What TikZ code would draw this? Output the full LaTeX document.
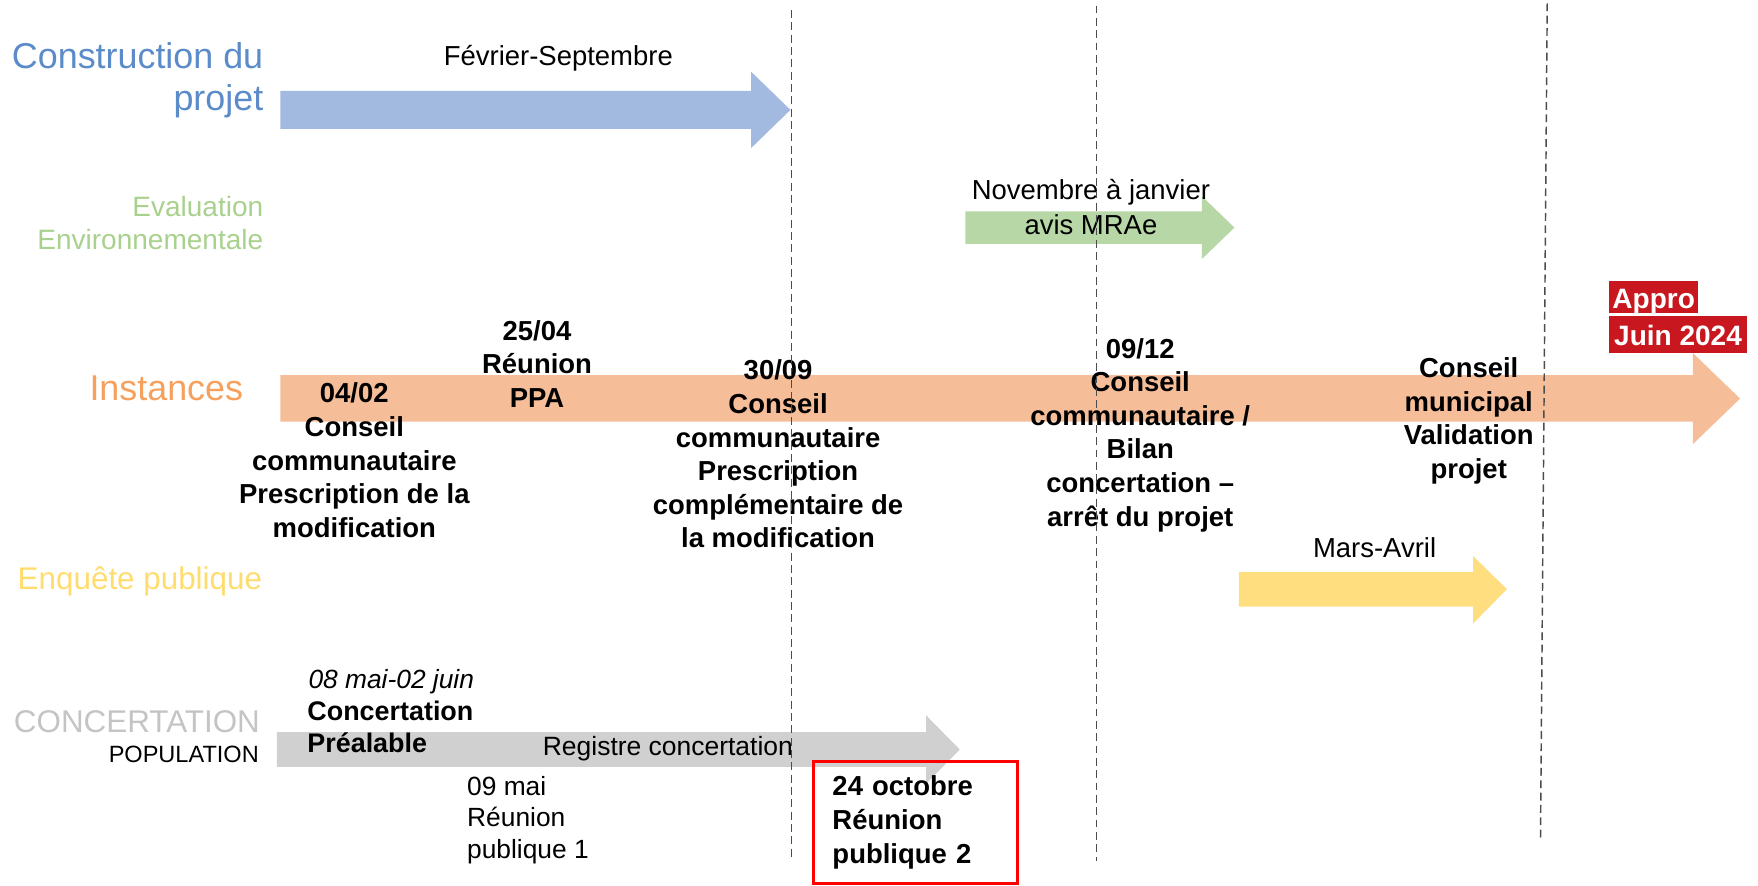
\documentclass[tikz,border=0pt]{standalone}
\usepackage{fontspec}
\setmainfont{Liberation Sans}
\definecolor{fbleu}{HTML}{A2B9E0}
\definecolor{fvert}{HTML}{B7D7A6}
\definecolor{forange}{HTML}{F5BD98}
\definecolor{fjaune}{HTML}{FFDE80}
\definecolor{fgris}{HTML}{D0D0D0}
\definecolor{tbleu}{HTML}{5B8BC8}
\definecolor{tvert}{HTML}{A9D18E}
\definecolor{torange}{HTML}{F6A05E}
\definecolor{tjaune}{HTML}{FFDC6E}
\definecolor{tgris}{HTML}{C4C4C4}
\definecolor{rouge}{HTML}{C8171E}

\begin{document}
\begin{tikzpicture}[x=1pt,y=-1pt,
	evt/.style={align=center,inner sep=0pt,font=\fontsize{24.5}{30}\selectfont\bfseries},
	per/.style={inner sep=0pt,font=\fontsize{24.5}{30}\selectfont},
	cat/.style={inner sep=0pt,align=right},
	repere/.style={draw=black!70,line width=1.3pt,dash pattern=on 7pt off 4pt},
	surl/.style={fill=rouge,text=white,inner xsep=3pt,inner ysep=0pt,font=\fontsize{25}{30}\selectfont\bfseries}]
	\useasboundingbox (0,0) rectangle (1568,790);
	% fleches
	\fill[fbleu] (250,81) -- (670,81) -- (670,64) -- (705,98) -- (670,132) -- (670,115) -- (250,115) -- cycle;
	\fill[fvert] (861,188.5) -- (1072,188.5) -- (1072,175) -- (1101,203) -- (1072,231) -- (1072,217.5) -- (861,217.5) -- cycle;
	\fill[forange] (250,334.5) -- (1510,334.5) -- (1510,315) -- (1552,355.5) -- (1510,396) -- (1510,376) -- (250,376) -- cycle;
	\fill[fjaune] (1105,510) -- (1314,510) -- (1314,496) -- (1344,525.5) -- (1314,556) -- (1314,541) -- (1105,541) -- cycle;
	\fill[fgris] (247,653) -- (826,653) -- (826,638) -- (856,668.5) -- (826,699) -- (826,684) -- (247,684) -- cycle;
	% categories
	\node[cat,anchor=east,text=tbleu,font=\fontsize{32}{37}\selectfont] (construction) at (235,71.5) {Construction du\\projet};
	\node[cat,anchor=east,text=tvert,font=\fontsize{25}{29.5}\selectfont] (evaluation) at (235,198.5) {Evaluation\\Environnementale};
	\node[cat,anchor=base east,text=torange,font=\fontsize{32}{37}\selectfont] (instances) at (217,357) {Instances};
	\node[cat,anchor=base east,text=tjaune,font=\fontsize{28}{34}\selectfont] (enquete) at (234,526) {Enquête publique};
	\node[cat,anchor=base east,text=tgris,font=\fontsize{28}{34}\selectfont] (concertation) at (232,653) {CONCERTATION};
	\node[cat,anchor=base east,font=\fontsize{21}{25}\selectfont] (population) at (231,680) {POPULATION};
	% periodes
	\node[per,anchor=base] (fevsep) at (498,58) {Février-Septembre};
	\node[per,align=center,font=\fontsize{24.5}{31}\selectfont] (novjan) at (973,184.5) {Novembre à janvier\\avis MRAe};
	\node[per,anchor=base] (marsavril) at (1226,497) {Mars-Avril};
	% instances
	\node[evt] (prescription) at (316,410.5) {04/02\\Conseil\\communautaire\\Prescription de la\\modification};
	\node[evt] (ppa) at (479,324.5) {25/04\\Réunion\\PPA};
	\node[evt] (complement) at (694,405) {30/09\\Conseil\\communautaire\\Prescription\\complémentaire de\\la modification};
	\node[evt] (arret) at (1017,388) {09/12\\Conseil\\communautaire /\\Bilan\\concertation –\\arrêt du projet};
	\node[evt] (validation) at (1310,375.5) {Conseil\\municipal\\Validation\\projet};
	\node[surl,anchor=base west,text height=24pt,text depth=4pt] (appro) at (1435,275) {Appro};
	\node[surl,anchor=base west,text height=26pt,text depth=7pt,inner xsep=4.5pt] (juin) at (1435,308) {Juin 2024};
	% concertation
	\node[per,anchor=base west,font=\fontsize{23.5}{28.5}\selectfont\itshape] (dates) at (275,614) {08 mai-02 juin};
	\node[evt,align=left,anchor=west,font=\fontsize{24}{29}\selectfont\bfseries] (prealable) at (274,648.5) {Concertation\\Préalable};
	\node[per,anchor=base west,font=\fontsize{23.6}{29}\selectfont] (registre) at (484,674) {Registre concertation};
	\node[per,align=left,anchor=west,font=\fontsize{23.5}{28.5}\selectfont] (reunion1) at (416.5,731.5) {09 mai\\Réunion\\publique 1};
	\node[draw=red,line width=2.5pt,text width=148pt,inner xsep=17pt,inner ysep=0pt,minimum height=109pt,align=left,font=\fontsize{24.5}{30}\selectfont\bfseries] (reunion2) at (816.5,733.5) {24 octobre\\Réunion\\publique 2};
	% reperes
	\coordinate (r1h) at (706,9);
	\coordinate (r1b) at (706,766);
	\coordinate (r2h) at (978,5);
	\coordinate (r2b) at (978,768);
	\coordinate (r3h) at (1380,3);
	\coordinate (r3b) at (1374,747);
	\draw[repere] (r1h) -- (r1b);
	\draw[repere] (r2h) -- (r2b);
	\draw[repere] (r3h) -- (r3b);
\end{tikzpicture}
\end{document}
